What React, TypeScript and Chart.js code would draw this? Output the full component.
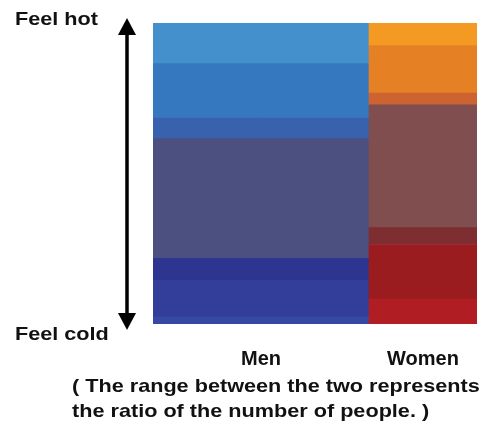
import React, { useEffect, useRef } from "react";
import { Chart, registerables } from "chart.js";

Chart.register(...registerables);

// Column groups and their relative widths (ratio of the number of people)
const groups = ["Men", "Women"];
const groupWeights = [2, 1];

// Comfort levels, stacked from bottom (cold) to top (hot)
const levels = ["Cold", "Cool", "Slightly cool", "Neutral", "Slightly warm", "Warm", "Hot"];
const menShares = [2.4, 12.2, 7.2, 39.8, 7.0, 17.9, 13.5];
const womenShares = [8.3, 18.1, 5.6, 40.8, 3.9, 15.8, 7.5];

const menColors = ["#3549A4", "#323E99", "#2E3591", "#4C5081", "#3862AD", "#3578C0", "#4490CD"];
const womenColors = ["#B01E24", "#9A1C1F", "#7E2E31", "#804E4F", "#CC6330", "#E58025", "#F49A22"];

const topLabel = "Feel hot";
const bottomLabel = "Feel cold";
const captionLines = [
  "( The range between the two represents",
  "the ratio of the number of people. )",
];

const FONT = "'Liberation Sans', Arial, Helvetica, sans-serif";

const arrowPlugin = {
  id: "sideArrow",
  afterDraw(chart: any) {
    const { ctx, chartArea } = chart;
    const x = 127;
    const top = chartArea.top - 5;
    const bottom = chartArea.bottom + 6;
    const head = 17;
    const half = 9;
    ctx.save();
    ctx.strokeStyle = "#000";
    ctx.fillStyle = "#000";
    ctx.lineWidth = 3.5;
    ctx.beginPath();
    ctx.moveTo(x, top + head - 1);
    ctx.lineTo(x, bottom - head + 1);
    ctx.stroke();
    ctx.beginPath();
    ctx.moveTo(x, top);
    ctx.lineTo(x - half, top + head);
    ctx.lineTo(x + half, top + head);
    ctx.closePath();
    ctx.fill();
    ctx.beginPath();
    ctx.moveTo(x, bottom);
    ctx.lineTo(x - half, bottom - head);
    ctx.lineTo(x + half, bottom - head);
    ctx.closePath();
    ctx.fill();
    ctx.restore();
  },
};

export default function App() {
  const ref = useRef<HTMLCanvasElement | null>(null);

  useEffect(() => {
    if (!ref.current) return;
    const shares = [menShares, womenShares];
    const colors = [menColors, womenColors];
    // expand groups into unit-width columns
    const colGroup: number[] = [];
    groups.forEach((_, gi) => {
      for (let k = 0; k < groupWeights[gi]; k++) colGroup.push(gi);
    });
    const totalUnits = colGroup.length;
    const centers: number[] = [];
    let acc = 0;
    groupWeights.forEach((w) => {
      centers.push(acc + w / 2);
      acc += w;
    });

    const datasets = levels.map((lvl, li) => ({
      label: lvl,
      data: colGroup.map((g) => shares[g][li]),
      backgroundColor: colGroup.map((g) => colors[g][li]),
      borderWidth: 0,
      barPercentage: 1,
      categoryPercentage: 1,
      xAxisID: "x",
    }));

    const chart = new Chart(ref.current, {
      type: "bar",
      data: { labels: colGroup.map((g) => groups[g]), datasets },
      options: {
        animation: false,
        responsive: false,
        layout: { padding: { left: 153, top: 23, right: 8, bottom: 0 } },
        plugins: { legend: { display: false }, tooltip: { enabled: false }, title: { display: false } },
        scales: {
          x: { type: "category", stacked: true, display: false },
          x2: {
            type: "linear",
            position: "bottom",
            offset: false,
            min: 0,
            max: totalUnits,
            grid: { display: false, drawTicks: false, offset: false },
            border: { display: false },
            afterBuildTicks: (axis: any) => {
              axis.ticks = centers.map((c) => ({ value: c }));
            },
            afterFit: (axis: any) => {
              axis.height = 101;
            },
            ticks: {
              padding: 23,
              autoSkip: false,
              maxRotation: 0,
              color: "#111",
              font: { family: FONT, size: 20, weight: "bold" },
              callback: (v: any) => {
                const i = centers.findIndex((c) => Math.abs(c - Number(v)) < 1e-6);
                return i >= 0 ? groups[i] : "";
              },
            },
          },
          y: { stacked: true, display: false, min: 0, max: 100 },
        },
      } as any,
      plugins: [arrowPlugin],
    });
    return () => chart.destroy();
  }, []);

  const textStyle = (left: number, top: number): React.CSSProperties => ({
    position: "absolute",
    left,
    top,
    fontFamily: FONT,
    fontWeight: "bold",
    fontSize: "18.5px",
    lineHeight: "18.5px",
    color: "#111",
    whiteSpace: "nowrap",
    transform: "scaleX(1.17)",
    transformOrigin: "left top",
  });

  return (
    <div style={{ position: "fixed", left: 0, top: 0, width: 485, height: 425, background: "#fff" }}>
      <canvas ref={ref} width={485} height={425} style={{ display: "block", width: 485, height: 425 }} />
      <span style={textStyle(15, 10.3)}>{topLabel}</span>
      <span style={textStyle(15, 325.3)}>{bottomLabel}</span>
      <span style={textStyle(72, 377.3)}>{captionLines[0]}</span>
      <span style={textStyle(72, 402)}>{captionLines[1]}</span>
    </div>
  );
}
